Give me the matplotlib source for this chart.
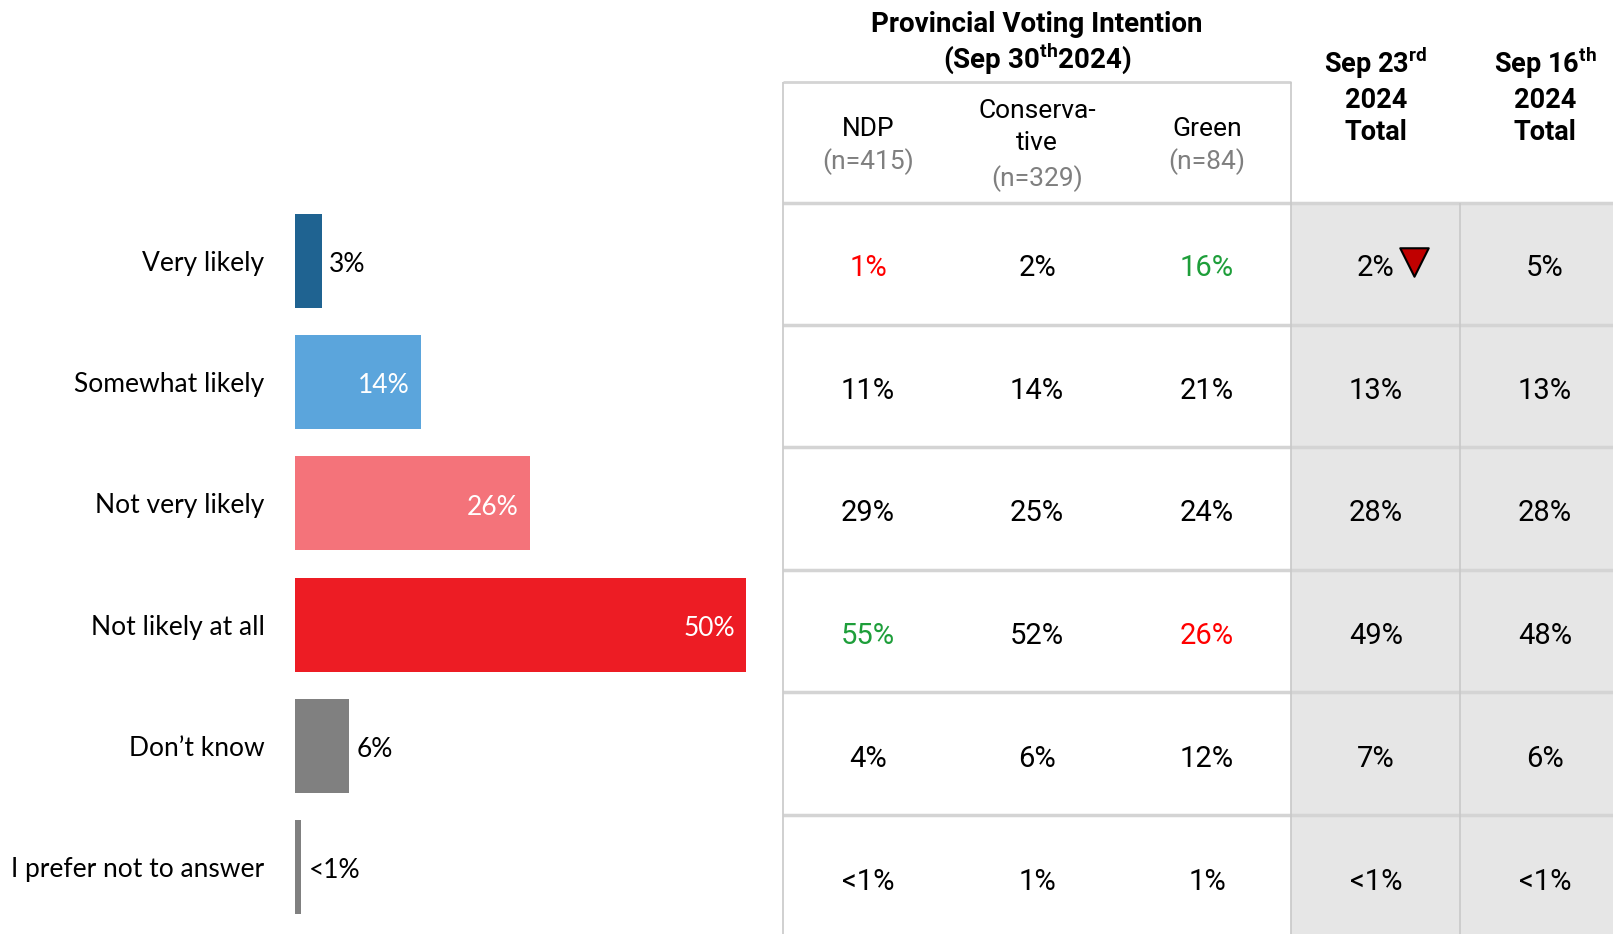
import matplotlib
matplotlib.use("Agg")
import matplotlib.pyplot as plt

# Data
categories = ["Very likely", "Somewhat likely", "Not very likely", "Not likely at all",
              "Don\u2019t know", "I prefer not to answer"]
values = [3, 14, 26, 50, 6, 0.7]
value_labels = ["3%", "14%", "26%", "50%", "6%", "<1%"]
bar_colors = ["#1F6391", "#5BA5DC", "#F4737A", "#ED1C24", "#808080", "#808080"]
label_inside = [False, True, True, True, False, False]

col_headers = ["NDP", "Conserva-\ntive", "Green"]
col_n = ["(n=415)", "(n=329)", "(n=84)"]
ndp = ["1%", "11%", "29%", "55%", "4%", "<1%"]
conservative = ["2%", "14%", "25%", "52%", "6%", "1%"]
green = ["16%", "21%", "24%", "26%", "12%", "1%"]
sep23 = ["2%", "13%", "28%", "49%", "7%", "<1%"]
sep16 = ["5%", "13%", "28%", "48%", "6%", "<1%"]
# significance colouring (higher = green, lower = red)
ndp_col = ["red", None, None, "green", None, None]
green_col = ["green", None, None, "red", None, None]
sep23_down = [True, False, False, False, False, False]

RED = "#FF0000"
GREEN = "#1E9E3A"
TFONT = ["Roboto", "DejaVu Sans"]
LABEL_FONT = ["Lato", "DejaVu Sans"]

plt.rcParams["mathtext.fontset"] = "custom"
plt.rcParams["mathtext.bf"] = "Roboto:bold"
plt.rcParams["mathtext.rm"] = "Roboto"

W, H = 1613, 934
fig = plt.figure(figsize=(W / 100, H / 100), dpi=100)

# ---- table / background layer in pixel coordinates ----
tab = fig.add_axes([0, 0, 1, 1])
tab.set_xlim(0, W)
tab.set_ylim(H, 0)
tab.axis("off")

row_lines = [203, 325, 447, 570, 692, 815]
row_centers = [268, 391, 513, 636, 759, 882]
col_x = [868, 1037, 1207, 1376, 1545]

# grey area for previous waves
tab.add_patch(plt.Rectangle((1291, 203), W - 1291, H - 203, color="#E6E6E6", zorder=0))
line_c = "#D4D4D4"
tab.hlines(row_lines, 783, W, colors=line_c, lw=2.5, zorder=1)
tab.hlines([82], 783, 1291, colors=line_c, lw=2, zorder=1)
tab.vlines([783, 1291], 82, H, colors="#C8C8C8", lw=1.2, zorder=1)
tab.vlines([1460], 203, H, colors="#C8C8C8", lw=1.2, zorder=1)

# headers
tab.text(1037, 25, "Provincial Voting Intention", ha="center", va="center",
         fontsize=20, fontweight="bold", family=TFONT)
tab.text(1037, 59, r"(Sep 30$^{\mathbf{th}}$2024)", ha="center", va="center",
         fontsize=20, fontweight="bold", family=TFONT)
for x, h, n in zip(col_x[:3], col_headers, col_n):
    if "\n" in h:
        tab.text(x, 127, h, ha="center", va="center", fontsize=19, family=TFONT,
                 linespacing=1.4)
        tab.text(x, 179, n, ha="center", va="center", fontsize=19, family=TFONT,
                 color="#7F7F7F")
    else:
        tab.text(x, 129, h, ha="center", va="center", fontsize=19, family=TFONT)
        tab.text(x, 162, n, ha="center", va="center", fontsize=19, family=TFONT,
                 color="#7F7F7F")
tab.text(col_x[3], 96, "Sep 23$^{\\mathbf{rd}}$\n2024\nTotal", ha="center", va="center",
         fontsize=19.5, fontweight="bold", family=TFONT, linespacing=1.25)
tab.text(col_x[4], 96, "Sep 16$^{\\mathbf{th}}$\n2024\nTotal", ha="center", va="center",
         fontsize=19.5, fontweight="bold", family=TFONT, linespacing=1.25)

cmap = {"red": RED, "green": GREEN, None: "black"}
for i, y in enumerate(row_centers):
    tab.text(col_x[0], y, ndp[i], ha="center", va="center", fontsize=21,
             family=TFONT, color=cmap[ndp_col[i]])
    tab.text(col_x[1], y, conservative[i], ha="center", va="center", fontsize=21,
             family=TFONT)
    tab.text(col_x[2], y, green[i], ha="center", va="center", fontsize=21,
             family=TFONT, color=cmap[green_col[i]])
    tab.text(col_x[3], y, sep23[i], ha="center", va="center", fontsize=21, family=TFONT)
    tab.text(col_x[4], y, sep16[i], ha="center", va="center", fontsize=21, family=TFONT)
    if sep23_down[i]:
        tab.scatter([col_x[3] + 38], [y - 6], marker="v", s=420, color="#C00000",
                    edgecolors="black", linewidths=1.5, zorder=3)

# ---- bar chart ----
row_h = 121.2
top = 261 - row_h / 2
bottom = 867 + row_h / 2
px_per_pct = 9.03
ax = fig.add_axes([295 / W, 1 - bottom / H, 480 / W, (bottom - top) / H])
ypos = list(range(len(categories)))
ax.barh(ypos, values, height=94 / row_h, color=bar_colors)
ax.set_xlim(0, 480 / px_per_pct)
ax.set_ylim(len(categories) - 0.5, -0.5)
ax.set_yticks(ypos)
ax.set_yticklabels(categories, fontsize=19, family=LABEL_FONT)
ax.tick_params(axis="y", length=0, pad=22)
ax.set_xticks([])
for s in ax.spines.values():
    s.set_visible(False)
ax.patch.set_alpha(0)

for y, v, lab, inside in zip(ypos, values, value_labels, label_inside):
    if inside:
        ax.text(v - 1.3, y + 0.03, lab, ha="right", va="center", color="white",
                fontsize=19, family=LABEL_FONT)
    else:
        ax.text(v + 0.8, y + 0.03, lab, ha="left", va="center", color="black",
                fontsize=19, family=LABEL_FONT)

fig.savefig("out.png", dpi=100)
